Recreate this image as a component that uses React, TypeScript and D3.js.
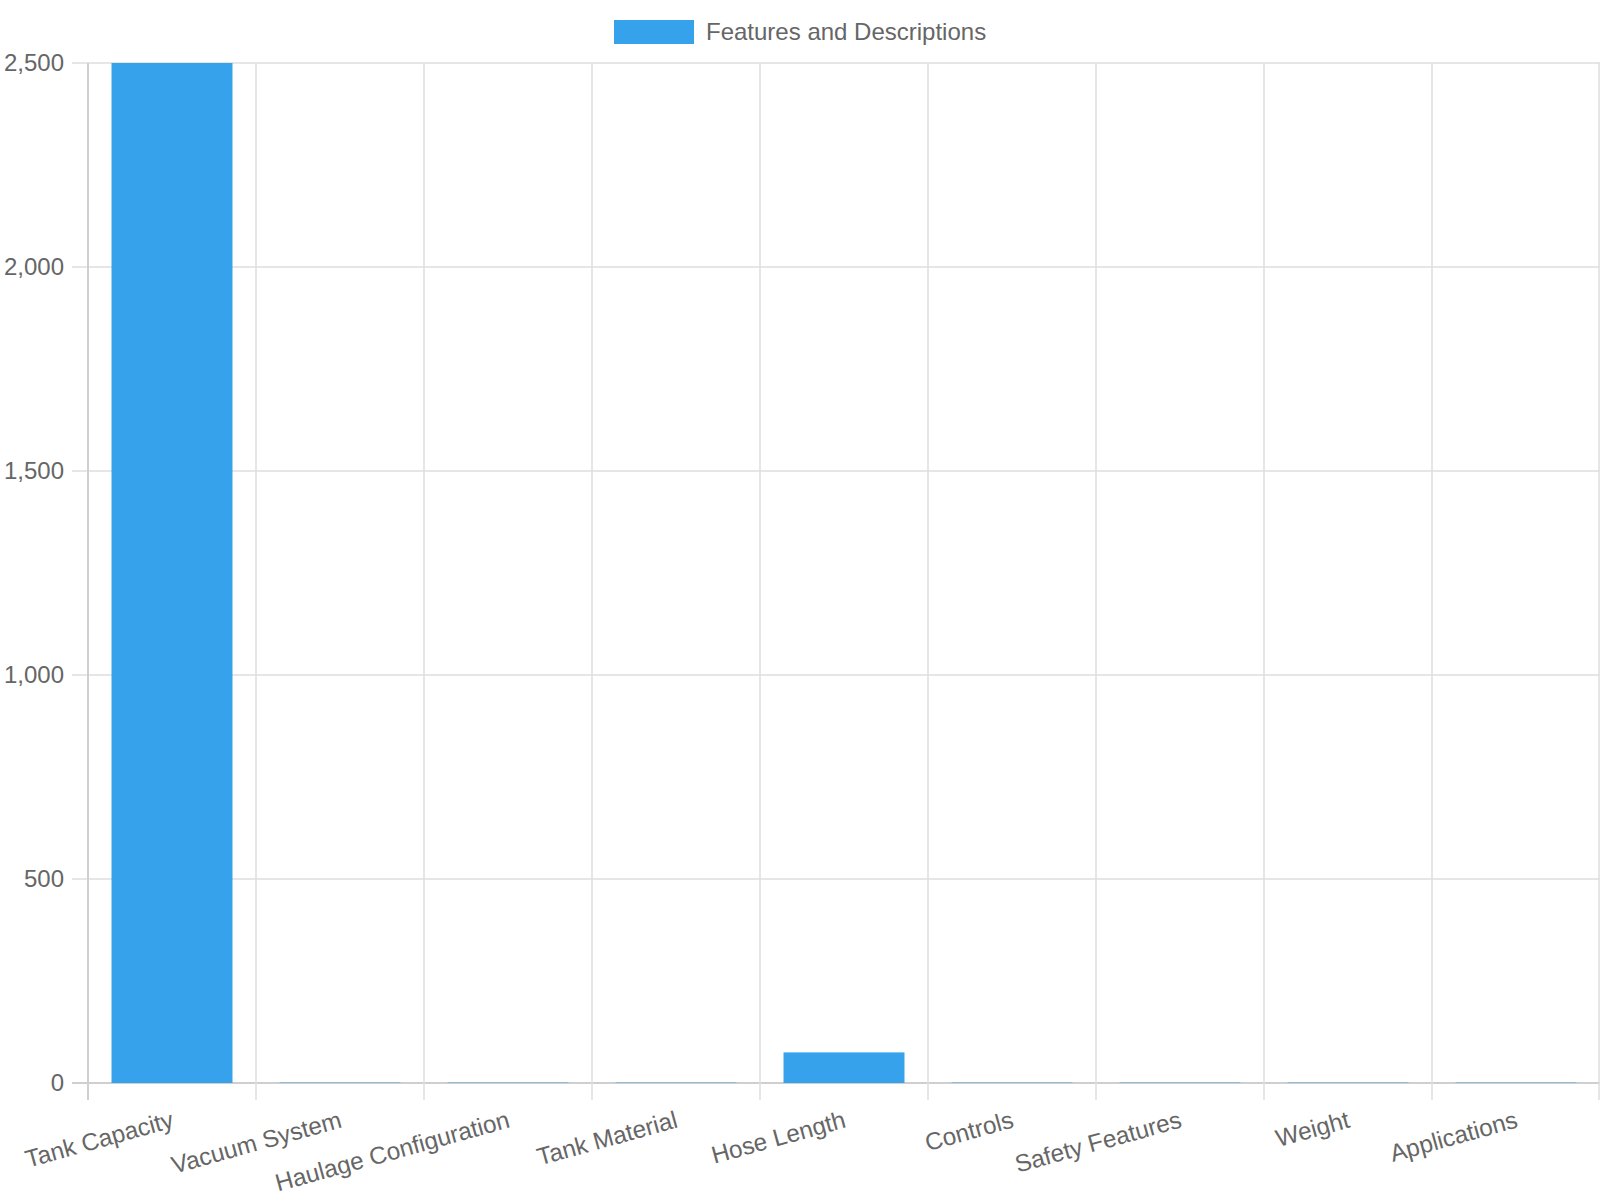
import * as d3 from "d3";

const categories = [
  "Tank Capacity",
  "Vacuum System",
  "Haulage Configuration",
  "Tank Material",
  "Hose Length",
  "Controls",
  "Safety Features",
  "Weight",
  "Applications",
];
const values = [2500, 1, 1, 1, 75, 1, 1, 1, 1];
const yTicks = [0, 500, 1000, 1500, 2000, 2500];
const seriesName = "Features and Descriptions";

const width = 1600;
const height = 1200;
const left = 88;
const right = 1600;
const top = 63;
const bottom = 1083;
const blue = "#36A2EB";
const grid = "#dedede";
const font = "'Liberation Sans', Arial, sans-serif";

export default function App() {
  const x = d3.scaleBand().domain(categories).range([left, right]).padding(0);
  const y = d3.scaleLinear().domain([0, 2500]).range([bottom, top]);
  const fmt = d3.format(",");
  const barW = x.bandwidth() * 0.72;
  const edges = categories.map((c) => x(c) as number).concat([right - 1]);

  return (
    <svg
      width={width}
      height={height}
      style={{ position: "absolute", left: 0, top: 0, background: "#fff" }}
      fontFamily={font}
    >
      {/* legend */}
      <rect x={614} y={20} width={80} height={24} fill={blue} />
      <text x={706} y={32} dy="0.35em" fontSize={24} fill="#666">
        {seriesName}
      </text>

      {/* horizontal grid */}
      {yTicks.map((t) => (
        <g key={t}>
          <line x1={72} x2={right} y1={y(t)} y2={y(t)} stroke={t === 0 ? "#cfcfcf" : grid} strokeWidth={t === 0 ? 2 : 1.5} />
          <text x={64} y={y(t)} dy="0.35em" textAnchor="end" fontSize={24} fill="#666">
            {fmt(t)}
          </text>
        </g>
      ))}

      {/* vertical grid */}
      {edges.map((e, i) => (
        <line key={i} x1={e} x2={e} y1={top} y2={1100} stroke={i === 0 ? "#cfcfcf" : grid} strokeWidth={i === 0 ? 2 : 1.5} />
      ))}

      {/* bars */}
      {categories.map((c, i) => {
        const cx = (x(c) as number) + x.bandwidth() / 2;
        return (
          <rect
            key={c}
            x={cx - barW / 2}
            y={y(values[i])}
            width={barW}
            height={bottom - y(values[i])}
            fill={blue}
          />
        );
      })}

      {/* x labels */}
      {categories.map((c) => {
        const cx = (x(c) as number) + x.bandwidth() / 2;
        return (
          <text
            key={c}
            transform={`translate(${cx + 3},${1127}) rotate(-15.5)`}
            textAnchor="end"
            fontSize={24.3}
            fill="#666"
          >
            {c}
          </text>
        );
      })}
    </svg>
  );
}
